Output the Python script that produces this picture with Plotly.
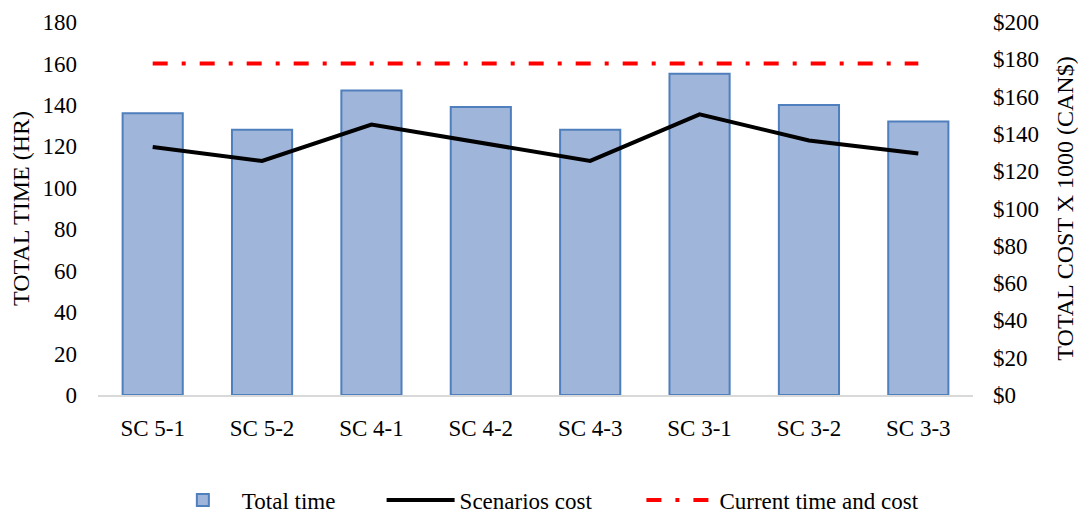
import plotly.graph_objects as go

# Scenario data
scenarios = ["SC 5-1", "SC 5-2", "SC 4-1", "SC 4-2", "SC 4-3", "SC 3-1", "SC 3-2", "SC 3-3"]
total_time_hr = [136, 128, 147, 139, 128, 155, 140, 132]
scenario_cost_k = [133, 125.5, 145, 135, 125.5, 150.5, 136.5, 129.5]
current_time_hr = [160, 160, 160, 160, 160, 160, 160, 160]

FONT = "Liberation Serif, Times New Roman, serif"

fig = go.Figure()

fig.add_trace(go.Bar(
    x=scenarios, y=total_time_hr, name="Total time", legend="legend",
    marker=dict(color="#a0b5da", line=dict(color="#4f7fbc", width=2)),
    width=0.55,
))

fig.add_trace(go.Scatter(
    x=scenarios, y=scenario_cost_k, name="Scenarios cost", yaxis="y2",
    legend="legend2", mode="lines", line=dict(color="black", width=4),
))

fig.add_trace(go.Scatter(
    x=scenarios, y=current_time_hr, name="Current time and cost",
    legend="legend3", mode="lines",
    line=dict(color="#ff0000", width=4, dash="15px,14px,4px,14px"),
))


def legend_at(x):
    return dict(
        orientation="h", x=x, xref="container", xanchor="left",
        y=0.027, yref="container", yanchor="middle",
        font=dict(family=FONT, size=23, color="black"),
        itemwidth=68, bgcolor="rgba(0,0,0,0)",
    )


fig.update_layout(
    width=1078, height=514,
    margin=dict(l=98, r=105, t=22, b=119),
    paper_bgcolor="white", plot_bgcolor="white",
    font=dict(family=FONT, size=23, color="black"),
    showlegend=True,
    legend=legend_at(0.152),
    legend2=legend_at(0.354),
    legend3=legend_at(0.595),
    xaxis=dict(
        showgrid=False, showline=True, linecolor="#d9d9d9", linewidth=1.5,
        ticks="", ticklabelstandoff=12, tickfont=dict(size=23), automargin=False,
    ),
    yaxis=dict(
        range=[0, 180], dtick=20, showgrid=False, zeroline=False,
        showline=False, ticks="", ticklabelstandoff=20, automargin=False,
        title=dict(text="TOTAL TIME (HR)", font=dict(size=24), standoff=6),
        tickfont=dict(size=23),
    ),
    yaxis2=dict(
        range=[0, 200], dtick=20, overlaying="y", side="right",
        showgrid=False, zeroline=False, showline=False, ticks="",
        tickprefix="$", ticklabelstandoff=19, automargin=False,
        title=dict(text="TOTAL COST X 1000 (CAN$)", font=dict(size=24), standoff=20),
        tickfont=dict(size=23),
    ),
    bargap=0.45,
)

fig.write_html("out.html")
